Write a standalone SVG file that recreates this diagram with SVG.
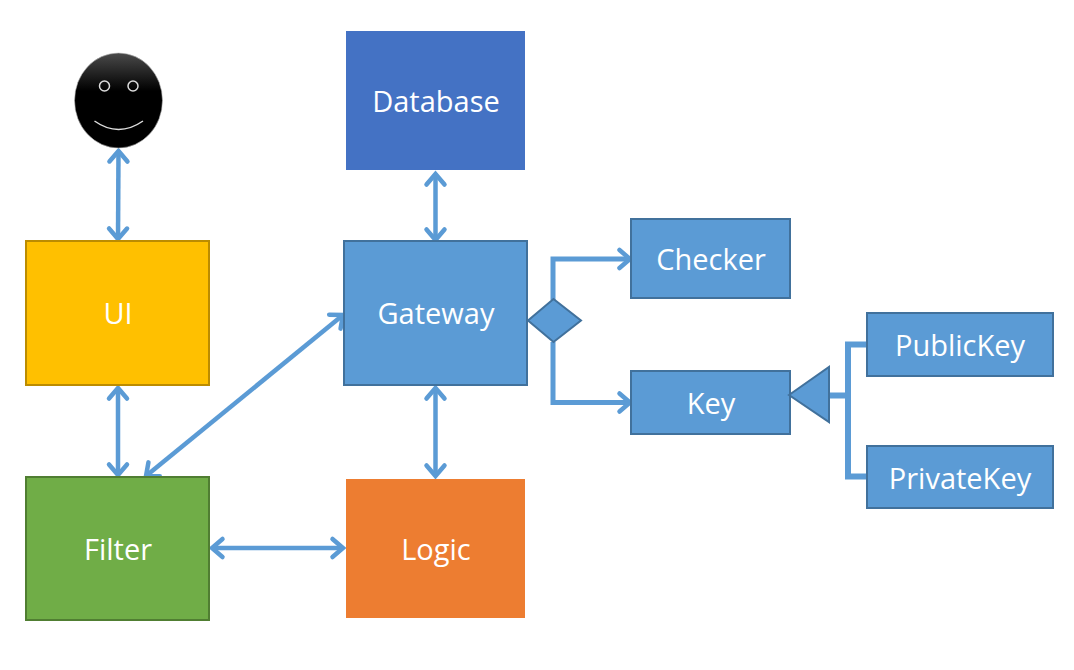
<svg xmlns="http://www.w3.org/2000/svg" width="1074" height="670" viewBox="0 0 1074 670">
<style>
.lbl{font-family:"Open Sans","Noto Sans",sans-serif;font-size:29px;fill:#fff;text-anchor:middle}
.blue{fill:#5b9bd5;stroke:#41719c;stroke-width:2}
.con{fill:none;stroke:#5b9bd5;stroke-width:4.500}
</style>
<defs>
<marker id="a" markerUnits="userSpaceOnUse" markerWidth="26" markerHeight="26" refX="17" refY="10" orient="auto-start-reverse" viewBox="0 0 26 26" overflow="visible">
<path d="M6.500 1L17 10L6.500 19" fill="none" stroke="#5b9bd5" stroke-width="4.500" stroke-linecap="round"/>
</marker>
<linearGradient id="face" x1="0" y1="0" x2="0" y2="1"><stop offset="0" stop-color="#4a4a4a"/><stop offset=".4" stop-color="#000"/><stop offset="1" stop-color="#000"/></linearGradient>
</defs>
<g id="connectors">
<path class="con" marker-start="url(#a)" marker-end="url(#a)" d="M118.500 151L118 239"/>
<path class="con" marker-start="url(#a)" marker-end="url(#a)" d="M118 388L118 475"/>
<path class="con" marker-start="url(#a)" marker-end="url(#a)" d="M146 476L343 315"/>
<path class="con" marker-start="url(#a)" marker-end="url(#a)" d="M212 548L343 548"/>
<path class="con" marker-start="url(#a)" marker-end="url(#a)" d="M435.500 174L435.500 240"/>
<path class="con" marker-start="url(#a)" marker-end="url(#a)" d="M435.500 388L435.500 476"/>
<path class="con" style="stroke-width:5" marker-end="url(#a)" d="M553 300L553 259L630 259"/>
<path class="con" style="stroke-width:5" marker-end="url(#a)" d="M553 342L553 402.500L630 402.500"/>
<path class="con" style="stroke-width:6" d="M867 344.500L848 344.500L848 476.500L867 476.500M828 395.500L848 395.500"/>
</g>
<g id="user">
<ellipse cx="118.500" cy="100.500" rx="44" ry="47.500" fill="url(#face)" stroke="#bbb" stroke-width=".6"/>
<circle cx="104.500" cy="86" r="5" fill="none" stroke="#ddd" stroke-width="1.500"/>
<circle cx="133" cy="86" r="5" fill="none" stroke="#ddd" stroke-width="1.500"/>
<path d="M94.500 121Q118.500 138 143 121" fill="none" stroke="#ddd" stroke-width="1.500"/>
</g>
<g id="database"><rect x="346" y="31" width="179" height="139" fill="#4472c4"/><text class="lbl" x="436" y="112">Database</text></g>
<g id="ui"><rect x="26" y="241" width="183" height="144" fill="#ffc000" stroke="#bc8c00" stroke-width="2"/><text class="lbl" x="118" y="324">UI</text></g>
<g id="gateway"><rect class="blue" x="344" y="241" width="183" height="144"/><text class="lbl" x="436" y="324">Gateway</text></g>
<g id="filter"><rect x="26" y="477" width="183" height="143" fill="#70ad47" stroke="#507e32" stroke-width="2"/><text class="lbl" x="118" y="560">Filter</text></g>
<g id="logic"><rect x="346" y="479" width="179" height="139" fill="#ed7d31"/><text class="lbl" x="436" y="560">Logic</text></g>
<g id="diamond"><polygon class="blue" points="528,320.500 553.500,299 581,320.500 553.500,342"/></g>
<g id="checker"><rect class="blue" x="631" y="219" width="159" height="79"/><text class="lbl" x="711" y="270">Checker</text></g>
<g id="key"><rect class="blue" x="631" y="371" width="159" height="63"/><text class="lbl" x="711" y="414">Key</text></g>
<g id="triangle"><polygon class="blue" points="789,395 829,367 829,422"/></g>
<g id="publickey"><rect class="blue" x="867" y="313" width="186" height="63"/><text class="lbl" x="960" y="356">PublicKey</text></g>
<g id="privatekey"><rect class="blue" x="867" y="446" width="186" height="62"/><text class="lbl" x="960" y="489">PrivateKey</text></g>
</svg>
